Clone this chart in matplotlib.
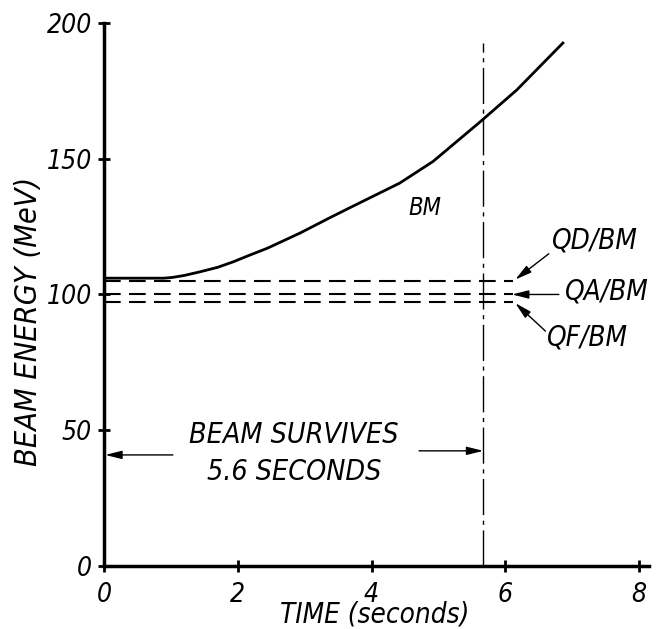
import matplotlib
matplotlib.use("Agg")
import matplotlib.pyplot as plt

# BM curve
bm_time = [0, 0.9, 1.03, 1.2, 1.43, 1.7, 1.93, 2.18, 2.44, 2.93, 3.38, 3.68,
           4.42, 4.92, 5.62, 6.17, 6.86]
bm_energy = [106, 106, 106.3, 107, 108.3, 110, 112, 114.5, 117, 122.6, 128.3, 132,
             141, 149, 163.5, 175.3, 192.6]

# flat ratio lines
ratio_names = ["QD/BM", "QA/BM", "QF/BM"]
ratio_levels = [105, 100, 97.3]
ratio_end = 6.12

survive_time = 5.67
xticks = [0, 2, 4, 6, 8]
yticks = [0, 50, 100, 150, 200]

fnt = dict(family="DejaVu Sans", style="italic", fontstretch="condensed")

fig = plt.figure(figsize=(6.62, 6.29), dpi=100)
ax = fig.add_axes([0.157, 0.1002, 0.8236, 0.8633])

ax.plot(bm_time, bm_energy, color="black", lw=2)
for lev in ratio_levels:
    ax.plot([0, ratio_end], [lev, lev], color="black", lw=1.5, linestyle=(0, (8, 4)))

# survival marker
ax.plot([survive_time, survive_time], [0, 192.5], color="black", lw=1,
        linestyle=(0, (26, 4, 3, 4)))

ax.set_xlim(0, 8.15)
ax.set_ylim(0, 200)
ax.set_xticks(xticks)
ax.set_yticks(yticks)
ax.set_xticklabels([str(t) for t in xticks], fontsize=19, **fnt)
ax.set_yticklabels([str(t) for t in yticks], fontsize=19, **fnt)
ax.tick_params(direction="inout", length=9, width=2)
ax.tick_params(axis="x", pad=7)
ax.tick_params(axis="y", pad=4)

for s in ["top", "right"]:
    ax.spines[s].set_visible(False)
for s in ["left", "bottom"]:
    ax.spines[s].set_linewidth(2.5)

ax.set_xlabel("TIME (seconds)", fontsize=20, **fnt)
ax.xaxis.set_label_coords(0.497, -0.064)
ax.set_ylabel("BEAM ENERGY (MeV)", fontsize=22, **fnt)
ax.yaxis.set_label_coords(-0.112, 0.45)

ax.text(4.8, 132, "BM", fontsize=17, ha="center", va="center", **fnt)

arw = dict(arrowstyle="-|>,head_length=1.0,head_width=0.25", color="black", lw=1,
           shrinkA=0, shrinkB=0)
lab_pos = [(6.70, 120), (6.89, 101), (6.62, 84.3)]
tails = [(6.65, 115), (6.8, 100), (6.6, 86.5)]
tips = [(6.15, 105.5), (6.1, 100), (6.15, 96.8)]
for name, lp, tl, tp in zip(ratio_names, lab_pos, tails, tips):
    ax.text(lp[0], lp[1], name, fontsize=20, ha="left", va="center", **fnt)
    ax.annotate("", xy=tp, xytext=tl, arrowprops=arw)

ax.text(2.83, 48.2, "BEAM SURVIVES", fontsize=20.5, ha="center", va="center", **fnt)
ax.text(2.84, 34.6, "5.6 SECONDS", fontsize=20.5, ha="center", va="center", **fnt)
ax.annotate("", xy=(0.02, 40.9), xytext=(1.03, 40.9), arrowprops=arw)
ax.annotate("", xy=(survive_time, 42.4), xytext=(4.71, 42.4), arrowprops=arw)

fig.savefig("out.png", dpi=100)
